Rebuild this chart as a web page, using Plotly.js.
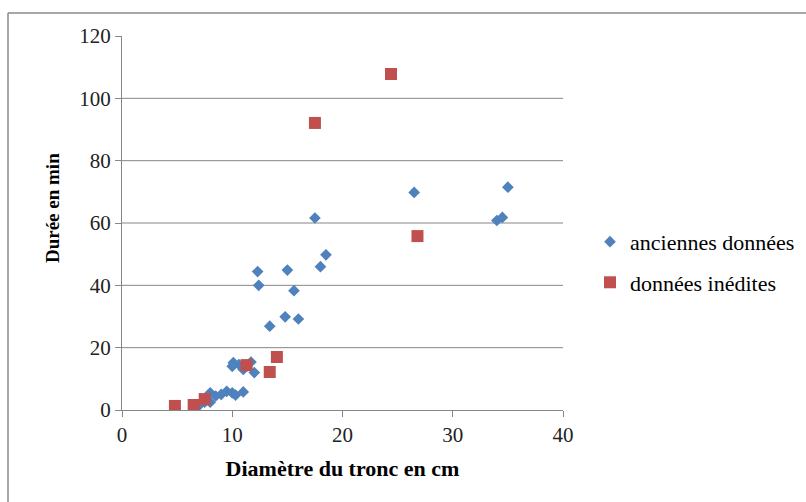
<!DOCTYPE html>
<html>
<head>
<meta charset="utf-8">
<script src="https://cdn.plot.ly/plotly-3.0.1.min.js"></script>
<style>
html,body{margin:0;padding:0;background:#fff;}
#chart{width:806px;height:502px;}
</style>
</head>
<body>
<div id="chart"></div>
<script>
// Data
const seriesNames = ["anciennes données", "données inédites"];
const oldDiam = [35.0, 26.5, 34.0, 34.5, 17.5, 18.5, 18.0, 15.0, 12.3, 12.4, 15.6, 14.8, 16.0, 13.4,
                 10.0, 10.1, 10.6, 11.0, 11.7, 12.0, 11.3,
                 7.0, 7.5, 8.0, 8.0, 8.5, 9.0, 9.5, 10.0, 10.3, 11.0];
const oldDur  = [71.5, 69.8, 60.8, 61.8, 61.6, 49.8, 46.0, 44.9, 44.4, 40.0, 38.3, 29.9, 29.2, 26.9,
                 14.0, 15.2, 14.6, 13.0, 15.4, 12.0, 14.0,
                 1.5, 2.5, 2.5, 5.5, 4.5, 5.0, 6.0, 5.5, 4.8, 5.8];
const newDiam = [4.8, 6.5, 7.5, 11.3, 13.4, 14.05, 17.5, 24.4, 26.8];
const newDur  = [1.3, 1.6, 3.5, 14.4, 12.2, 17.0, 92.1, 107.8, 55.8];
const xTicks = [0, 10, 20, 30, 40];
const yTicks = [0, 20, 40, 60, 80, 100, 120];
const xTitle = "Diamètre du tronc en cm";
const yTitle = "Durée en min";

const serif = "Liberation Serif";
const gridColor = "#868686";

const traces = [
  {x: oldDiam, y: oldDur, name: seriesNames[0], type: "scatter", mode: "markers",
   legendgroup: "a",
   marker: {symbol: "diamond", size: 9, color: "#4F81BD"}},
  {x: newDiam, y: newDur, name: seriesNames[1], type: "scatter", mode: "markers",
   legendgroup: "b",
   marker: {symbol: "square", size: 12, color: "#C0504D"}}
];

const shapes = [];
// horizontal gridlines (none at the top value)
yTicks.slice(1, -1).forEach(v => shapes.push({type: "line", xref: "paper", yref: "y",
  x0: 0, x1: 1, y0: v, y1: v, line: {color: gridColor, width: 1}, layer: "below"}));
// outer chart border (left and top)
shapes.push({type: "line", xref: "paper", yref: "paper", x0: -0.2585, x1: -0.2585, y0: 1.0615, y1: -0.4,
  line: {color: "#8a8a8a", width: 1.5}});
shapes.push({type: "line", xref: "paper", yref: "paper", x0: -0.2585, x1: 1.7, y0: 1.0615, y1: 1.0615,
  line: {color: "#8a8a8a", width: 1.5}});

const layout = {
  width: 806, height: 502,
  margin: {l: 122, r: 243, t: 36, b: 92, pad: 0, autoexpand: false},
  paper_bgcolor: "#fff", plot_bgcolor: "#fff",
  font: {family: serif, size: 20, color: "#000"},
  showlegend: true,
  legend: {xref: "container", yref: "container", x: 0.732, y: 0.56, xanchor: "left", yanchor: "top",
    font: {family: serif, size: 22, color: "#000"},
    traceorder: "grouped", tracegroupgap: 9, bgcolor: "rgba(0,0,0,0)"},
  xaxis: {range: [0, 40], tickvals: xTicks, ticktext: xTicks.map(String),
    showgrid: false, zeroline: false, showline: true, linecolor: gridColor, linewidth: 1,
    ticks: "outside", ticklen: 6, tickcolor: gridColor, tickwidth: 1,
    tickfont: {family: serif, size: 21, color: "#222"},
    title: {text: "<b>" + xTitle + "</b>", font: {family: serif, size: 22, color: "#000"}, standoff: 14},
    fixedrange: true},
  yaxis: {range: [0, 120], tickvals: yTicks, ticktext: yTicks.map(String),
    showgrid: false, zeroline: false, showline: true, linecolor: gridColor, linewidth: 1,
    ticks: "outside", ticklen: 6, tickcolor: gridColor, tickwidth: 1,
    tickfont: {family: serif, size: 21, color: "#222"},
    title: {text: ""},
    fixedrange: true},
  annotations: [{text: "<b>" + yTitle + "</b>", xref: "paper", yref: "paper",
    x: -0.1587, y: 0.54, xanchor: "center", yanchor: "middle", textangle: -90, showarrow: false,
    font: {family: serif, size: 19, color: "#000"}}],
  shapes: shapes
};

Plotly.newPlot("chart", traces, layout, {staticPlot: true, displayModeBar: false});
</script>
</body>
</html>
